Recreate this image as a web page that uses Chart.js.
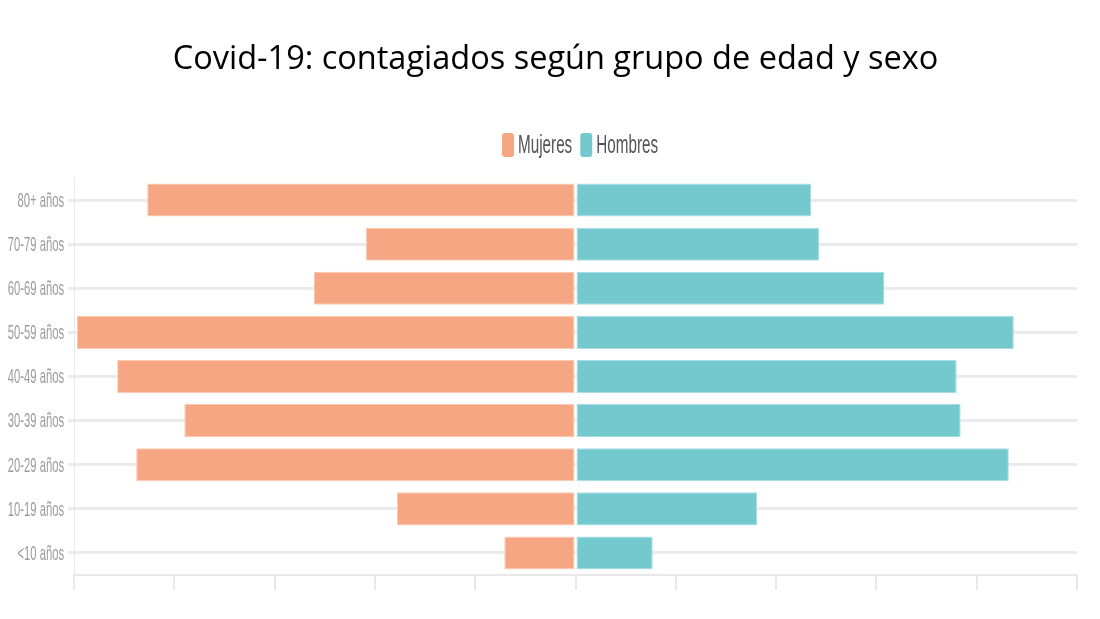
<!DOCTYPE html>
<html>
<head>
<meta charset="utf-8">
<script src="https://cdn.jsdelivr.net/npm/chart.js@4.4.0/dist/chart.umd.min.js"></script>
<style>
  html, body { margin: 0; padding: 0; background: #fff; }
  #wrap { width: 1100px; height: 619px; }
</style>
</head>
<body>
<div id="wrap"><canvas id="myChart" width="1100" height="619"></canvas></div>
<script>
// Grupos de edad (de arriba a abajo)
const grupos = ['80+ años', '70-79 años', '60-69 años', '50-59 años', '40-49 años',
                '30-39 años', '20-29 años', '10-19 años', '<10 años'];

// Contagiados (mujeres en negativo para el lado izquierdo)
const mujeres = [-427, -209, -261, -497, -457, -390, -438, -178, -71];
const hombres = [235, 243, 308, 437, 380, 384, 432, 181, 77];

// Marcas del eje x
const ticksX = [-500, -400, -300, -200, -100, 0, 100, 200, 300, 400, 500];

const ctx = document.getElementById('myChart').getContext('2d');

// Etiquetas del eje y y leyenda dibujadas estrechas (como en el original)
const textoEstrecho = {
    id: 'textoEstrecho',
    afterDraw(chart) {
        const c = chart.ctx;
        const y = chart.scales.y;
        c.save();
        c.fillStyle = '#9b9b9b';
        c.font = '21px "Liberation Sans", sans-serif';
        c.textAlign = 'right';
        c.textBaseline = 'middle';
        grupos.forEach(function(g, i) {
            c.save();
            c.translate(64, y.getPixelForValue(i) + 1);
            c.scale(0.535, 1);
            c.fillText(g, 0, 0);
            c.restore();
        });

        // leyenda
        let x = 502;
        const yc = 145;
        c.font = '25px "Liberation Sans", sans-serif';
        c.textAlign = 'left';
        chart.data.datasets.forEach(function(ds) {
            c.fillStyle = ds.backgroundColor;
            c.beginPath();
            c.roundRect(x, yc - 12, 12, 24, 3);
            c.fill();
            c.fillStyle = '#555';
            c.save();
            c.translate(x + 16, yc + 1);
            c.scale(0.61, 1);
            c.fillText(ds.label, 0, 0);
            const w = c.measureText(ds.label).width * 0.61;
            c.restore();
            x += 16 + w + 8;
        });
        c.restore();
    }
};

const myChart = new Chart(ctx, {
    type: 'bar',
    data: {
        labels: grupos,
        datasets: [{
            label: 'Mujeres',
            data: mujeres,
            backgroundColor: '#f7a683',
            borderColor: '#fbc9b3',
            borderWidth: 1,
            borderSkipped: false,
            stack: 's',
            categoryPercentage: 0.75,
            barPercentage: 1
        }, {
            label: 'Hombres',
            data: hombres,
            backgroundColor: '#74c9cf',
            borderColor: '#a9dde2',
            borderWidth: 1,
            borderSkipped: false,
            stack: 's',
            categoryPercentage: 0.75,
            barPercentage: 1
        }]
    },
    options: {
        indexAxis: 'y',
        responsive: false,
        animation: false,
        layout: { padding: { left: 34, right: 23, top: 0, bottom: 29 } },
        plugins: {
            title: {
                display: true,
                text: 'Covid-19: contagiados según grupo de edad y sexo',
                color: '#000',
                font: { family: '"Open Sans", sans-serif', size: 32.5, weight: 'normal' },
                padding: { top: 40, bottom: 99 }
            },
            legend: { display: false },
            tooltip: { enabled: false }
        },
        scales: {
            x: {
                min: -500,
                max: 500,
                afterBuildTicks: function(scale) {
                    scale.ticks = ticksX.map(v => ({ value: v }));
                },
                afterFit: function(scale) { scale.height = 15; },
                ticks: { display: false },
                grid: { drawOnChartArea: false, drawTicks: true, tickLength: 15, color: '#e8e8e8', lineWidth: 2 },
                border: { display: true, color: '#e8e8e8', width: 2 }
            },
            y: {
                stacked: true,
                afterFit: function(scale) { scale.width = 40; },
                ticks: { display: false },
                grid: { offset: false, color: '#ebebeb', lineWidth: 3, drawTicks: true, tickLength: 6 },
                border: { display: true, color: '#e8e8e8', width: 1 }
            }
        }
    },
    plugins: [textoEstrecho]
});
</script>
</body>
</html>
